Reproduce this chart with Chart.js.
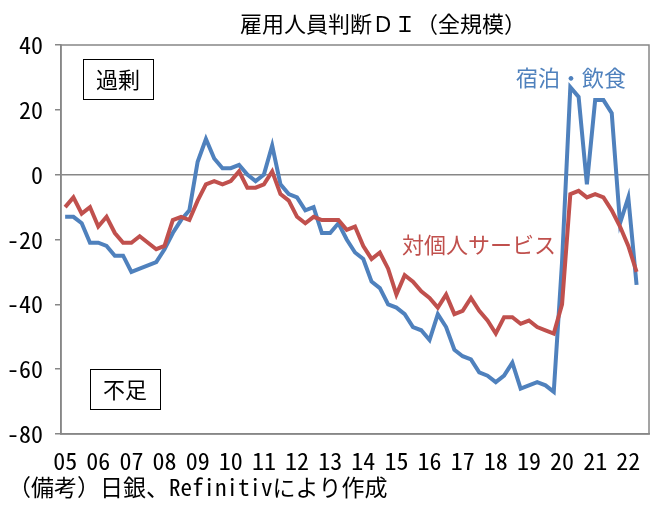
<!DOCTYPE html>
<html lang="ja">
<head>
<meta charset="utf-8">
<script src="https://cdn.jsdelivr.net/npm/chart.js@4.4.1/dist/chart.umd.min.js"></script>
<style>
  html, body { margin: 0; padding: 0; background: #fff; }
  #wrap { width: 666px; height: 515px; }
</style>
</head>
<body>
<div id="wrap"><canvas id="chart"></canvas></div>
<script>
// --- DATA (quarterly, 2005Q1 - 2022Q2; axis runs one quarter further) ---
const years = ['05', '06', '07', '08', '09', '10', '11', '12', '13', '14', '15', '16', '17', '18', '19', '20', '21', '22'];
const categoryCount = 71;

const hotelFood = [
  -13, -13, -15, -21, -21, -22, -25, -25, -30, -29, -28, -27, -23, -18, -14, -11,
  4, 11, 5, 2, 2, 3, 0, -2, 0, 9, -3, -6, -7, -11, -10, -18,
  -18, -15, -20, -24, -26, -33, -35, -40, -41, -43, -47, -48, -51, -43, -47, -54,
  -56, -57, -61, -62, -64, -62, -58, -66, -65, -64, -65, -67, -27, 27, 24, -3,
  23, 23, 19, -15, -7, -34
];
const personalServices = [
  -10, -7, -12, -10, -16, -13, -18, -21, -21, -19, -21, -23, -22, -14, -13, -14,
  -8, -3, -2, -3, -2, 1, -4, -4, -3, 1, -6, -8, -13, -15, -13, -14,
  -14, -14, -17, -16, -22, -26, -24, -29, -37, -31, -33, -36, -38, -41, -37, -43,
  -42, -38, -42, -45, -49, -44, -44, -46, -45, -47, -48, -49, -40, -6, -5, -7,
  -6, -7, -11, -16, -22, -30
];
const yTickValues = [40, 20, 0, -20, -40, -60, -80];

const titleText = '雇用人員判断ＤＩ（全規模）';
const sourceText = '（備考）日銀、Refinitivにより作成';

// --- HELPERS ---
const FONT = "'Noto Sans Mono CJK JP', 'Noto Sans CJK JP', 'Noto Sans', sans-serif";
const BLUE = '#4F81BD';
const RED = '#C0504D';
const AXIS = '#878787';

const labels = years.flatMap(y => [y, '', '', '']).slice(0, categoryCount);

function drawBoxLabel(ctx, text, x, y, w, h) {
  ctx.fillStyle = '#fff';
  ctx.fillRect(x, y, w, h);
  ctx.strokeStyle = '#000';
  ctx.lineWidth = 1;
  ctx.strokeRect(x + 0.5, y + 0.5, w, h);
  ctx.fillStyle = '#000';
  ctx.fillText(text, x + w / 2, y + h / 2 + 1);
}

const decorPlugin = {
  id: 'decor',
  beforeDatasetsDraw(chart) {
    const { ctx, chartArea: a } = chart;
    ctx.save();
    ctx.strokeStyle = AXIS;
    ctx.lineWidth = 1.5;
    ctx.strokeRect(a.left, a.top, a.right - a.left, a.bottom - a.top);
    ctx.restore();
  },
  afterDraw(chart) {
    const { ctx } = chart;
    ctx.save();
    ctx.textBaseline = 'middle';
    ctx.textAlign = 'center';

    ctx.font = `22px ${FONT}`;
    ctx.fillStyle = '#000';
    ctx.fillText(titleText, 383, 24);

    drawBoxLabel(ctx, '過剰', 83, 59, 70, 40);
    drawBoxLabel(ctx, '不足', 90, 369, 70, 40);

    ctx.fillStyle = BLUE;
    ctx.fillText('宿泊・飲食', 571, 78);
    ctx.fillStyle = RED;
    ctx.fillText('対個人サービス', 479, 245);

    ctx.textAlign = 'left';
    ctx.fillStyle = '#000';
    ctx.font = `23px ${FONT}`;
    ctx.fillText(sourceText, 8, 487);
    ctx.restore();
  }
};

// --- CHART ---
new Chart(document.getElementById('chart'), {
  type: 'line',
  data: {
    labels: labels,
    datasets: [
      { label: '宿泊・飲食', data: hotelFood, borderColor: BLUE, borderWidth: 4, order: 1 },
      { label: '対個人サービス', data: personalServices, borderColor: RED, borderWidth: 4, order: 0 }
    ]
  },
  options: {
    responsive: true, maintainAspectRatio: false, animation: false,
    devicePixelRatio: 1,
    layout: { padding: { top: 45, right: 17, bottom: 0, left: 5 } },
    elements: { point: { radius: 0 }, line: { tension: 0, borderCapStyle: 'butt', borderJoinStyle: 'miter' } },
    plugins: { legend: { display: false }, title: { display: false }, tooltip: { enabled: false } },
    scales: {
      x: {
        offset: true,
        grid: { display: false, drawTicks: false },
        border: { color: AXIS, width: 1.5 },
        ticks: { autoSkip: false, maxRotation: 0, padding: 12, color: '#000', font: { family: FONT, size: 24 } },
        afterFit: s => { s.height = 81; }
      },
      y: {
        min: -80, max: 40,
        afterBuildTicks: s => { s.ticks = yTickValues.map(v => ({ value: v })); },
        grid: {
          color: c => (c.tick && c.tick.value === 0 ? AXIS : 'transparent'),
          lineWidth: 1.5, tickColor: AXIS, tickLength: 6
        },
        border: { color: AXIS, width: 1.5 },
        ticks: { padding: 12, color: '#000', font: { family: FONT, size: 24 } },
        afterFit: s => { s.width = 56; }
      }
    }
  },
  plugins: [decorPlugin]
});
</script>
</body>
</html>
